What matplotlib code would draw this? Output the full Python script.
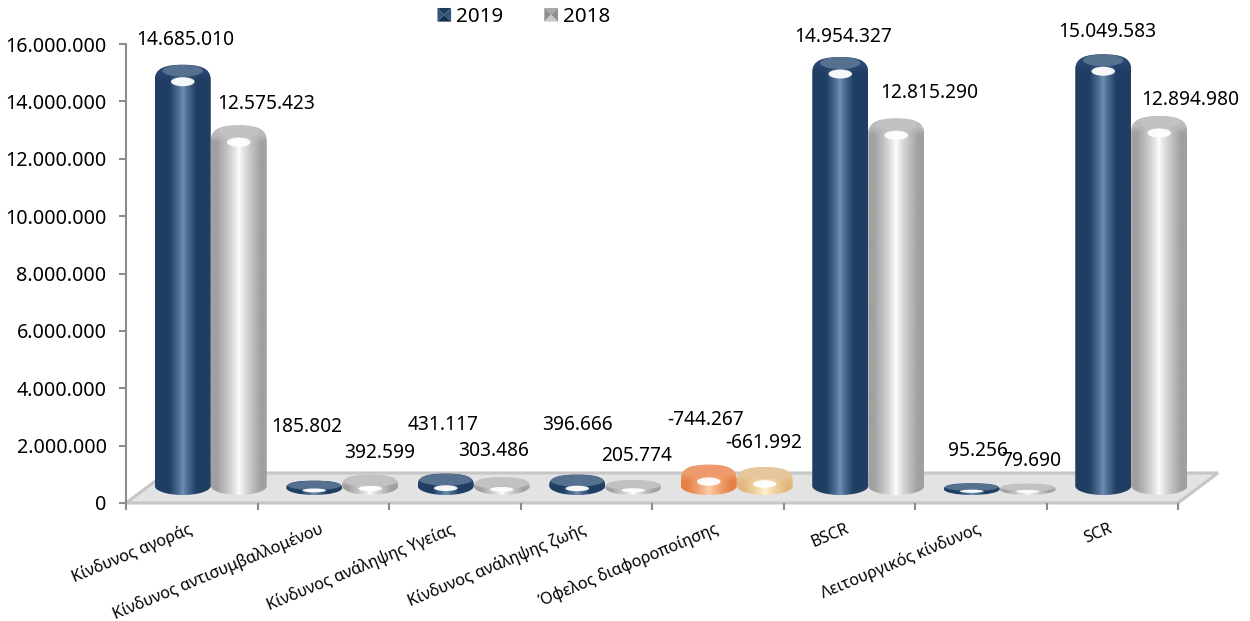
"""
plot.py
Κίνδυνοι SCR 2019 / 2018, κυλινδρικές μπάρες με ψευδο-3D δάπεδο
"""

import numpy as np
import matplotlib
matplotlib.use("Agg")
import matplotlib.pyplot as plt
from matplotlib.path import Path
from matplotlib.patches import PathPatch, Ellipse, Polygon, Patch
from matplotlib.legend_handler import HandlerBase

# ─────────────────────── data ───────────────────────
categories = ["Κίνδυνος αγοράς", "Κίνδυνος αντισυμβαλλομένου", "Κίνδυνος ανάληψης Υγείας",
              "Κίνδυνος ανάληψης ζωής", "Όφελος διαφοροποίησης", "BSCR",
              "Λειτουργικός κίνδυνος", "SCR"]
values_2019 = [14685010, 185802, 431117, 396666, -744267, 14954327, 95256, 15049583]
values_2018 = [12575423, 392599, 303486, 205774, -661992, 12815290, 79690, 12894980]
y_ticks = [0, 2000000, 4000000, 6000000, 8000000, 10000000, 12000000, 14000000, 16000000]
series_names = ["2019", "2018"]

# label offsets from the top of each bar, in pixels
offsets_2019 = [(2, 25), (-8, 54), (-3, 49), (0, 50), (-3, 45), (3, 20), (6, 32), (4, 22)]
offsets_2018 = [(27, 21), (9, 22), (-8, 26), (3, 24), (-1, 24), (33, 25), (3, 23), (31, 16)]

# ─────────────────────── layout (pixels) ───────────────────────
W, H = 1250, 621
AX_L, AX_R = 126, 1178
AX_T, AX_B = 44, 503
SHIFT_X, SHIFT_Y = 19, 17      # bars sit on the floor, not on the axis line
BACK_X, BACK_Y = 40, 30        # floor depth
BAR_PX = 56
BASE_PX = 9                    # bottom ellipse below value 0

FONT = "Noto Sans"
plt.rcParams["font.family"] = [FONT, "DejaVu Sans"]

# (edge, centre, cap, bevel, gradient width)
BLUE = ("#203e63", "#7090b5", "#56708f", "#274670", 0.5)
GRAY = ("#a0a0a0", "#ffffff", "#c2c2c2", "#bcbcbc", 0.8)
ORANGE = ("#e58045", "#ffd0ad", "#ee9a6c", "#ee9a66", 0.8)
PEACH = ("#e2b67c", "#fff6cf", "#e6c69c", "#e8c598", 0.8)

DY = 16e6 / (AX_B - AX_T)      # value per pixel
DX = 8 / (AX_R - AX_L)         # category per pixel


def rgb(c):
    return np.array(matplotlib.colors.to_rgb(c))


def fig_rect(l, r, t, b):
    return [l / W, 1 - b / H, (r - l) / W, (b - t) / H]


def draw_bar(ax, cx, value, colors):
    """one cylinder: gradient image clipped to a rounded outline"""
    edge, centre, cap, bevel_c = [rgb(c) for c in colors[:4]]
    v = abs(value)
    w = BAR_PX * DX
    l, r = cx - w / 2, cx + w / 2
    base = -BASE_PX * DY
    h_px = (v - base) / DY
    ry = min(15, h_px * 0.5) * DY
    y_sh = v - ry
    y_bs = min(y_sh, 0)

    verts = [(l, y_sh),
             (l, v - ry * 0.2), (l + 0.2 * w, v), (cx, v),
             (r - 0.2 * w, v), (r, v - ry * 0.2), (r, y_sh),
             (r, y_bs),
             (r, y_bs - 0.55 * (y_bs - base)), (cx + 0.275 * w, base), (cx, base),
             (cx - 0.275 * w, base), (l, y_bs - 0.55 * (y_bs - base)), (l, y_bs),
             (l, y_sh)]
    codes = [Path.MOVETO] + [Path.CURVE4] * 6 + [Path.LINETO] + [Path.CURVE4] * 6 + [Path.CLOSEPOLY]
    outline = Path(verts, codes)

    # horizontal gradient, flat colour in the top bevel
    t = np.abs(np.linspace(-1, 1, BAR_PX))
    k = np.clip(t / colors[4], 0, 1) ** 0.8
    row = centre + (edge - centre) * k[:, None]
    ny = max(int(h_px), 2)
    img = np.repeat(row[None, :, :], ny, axis=0)
    bevel = np.clip((np.arange(ny) - ry / DY * 0.6) / (ry / DY * 0.5), 0, 1)[:, None, None]
    img = img * bevel + bevel_c * (1 - bevel)

    im = ax.imshow(img, extent=(l, r, base, v), origin="upper", aspect="auto",
                   interpolation="bilinear", zorder=3)
    im.set_clip_path(outline, ax.transData)

    # lighter lens on top of the cylinder
    hh = min(6, h_px * 0.33) * DY
    lens = Ellipse((cx, v - hh), w * (0.95 if h_px < 35 else 0.72), hh * 2,
                   facecolor=cap, edgecolor="none", zorder=4)
    ax.add_patch(lens)
    lens.set_clip_path(outline, ax.transData)

    # white reflection
    hy = min(17, h_px * 0.68) * DY
    hh2 = min(9, h_px * 0.27) * DY
    shine = Ellipse((cx, v - hy), w * 0.42, hh2, facecolor="white", edgecolor="none",
                    alpha=0.95, zorder=5)
    ax.add_patch(shine)


class PyramidHandler(HandlerBase):
    """legend square made of four triangles"""

    def __init__(self, faces):
        super().__init__()
        self.faces = faces

    def create_artists(self, legend, orig, xd, yd, width, height, fontsize, trans):
        s = height * 0.95
        x0, y0 = width - s - xd, (height - s) / 2 - yd
        c = (x0 + s / 2, y0 + s / 2)
        a, b, d, e = (x0, y0), (x0 + s, y0), (x0 + s, y0 + s), (x0, y0 + s)
        tris = [(e, d), (a, e), (b, d), (a, b)]
        return [Polygon([p, q, c], closed=True, facecolor=f, edgecolor="none", transform=trans)
                for (p, q), f in zip(tris, self.faces)]


fig = plt.figure(figsize=(W / 100, H / 100), dpi=100)

# ─────────────────────── axis and floor ───────────────────────
ax = fig.add_axes(fig_rect(AX_L, AX_R, AX_T, AX_B))
ax.set_xlim(-0.5, 7.5)
ax.set_ylim(0, 16e6)
for side in ["top", "right", "bottom"]:
    ax.spines[side].set_visible(False)
ax.spines["left"].set_color("#8c8c8c")
ax.spines["left"].set_linewidth(1.5)

ax.set_yticks(y_ticks)
ax.set_yticklabels([f"{v:,}".replace(",", ".") for v in y_ticks], fontsize=14.2, color="black")
ax.tick_params(axis="y", length=5, width=1.5, color="#8c8c8c", pad=9)

ax.set_xticks(np.arange(-0.5, 8, 1))
ax.set_xticklabels([])
ax.tick_params(axis="x", which="major", length=5, width=1.5, color="#8c8c8c")
ax.set_xticks(np.arange(8) - 4 * DX, minor=True)
ax.set_xticklabels(categories, minor=True, rotation=22.5, ha="right", rotation_mode="anchor",
                   fontsize=11.6, color="black")
ax.tick_params(axis="x", which="minor", length=0, pad=13)

x0, x1 = -0.5, 7.5
floor = Polygon([(x0, 0), (x1, 0), (x1 + BACK_X * DX, BACK_Y * DY), (x0 + BACK_X * DX, BACK_Y * DY)],
                closed=True, facecolor="#e3e3e3", edgecolor="#c6c6c6", linewidth=2.2,
                clip_on=False, zorder=1)
ax.add_patch(floor)

# ─────────────────────── bars ───────────────────────
ax3 = fig.add_axes(fig_rect(AX_L + SHIFT_X, AX_R + SHIFT_X, AX_T - SHIFT_Y, AX_B))
ax3.axis("off")

for i, (v19, v18) in enumerate(zip(values_2019, values_2018)):
    cx19 = i - BAR_PX * DX / 2
    cx18 = i + BAR_PX * DX / 2
    draw_bar(ax3, cx18, v18, PEACH if v18 < 0 else GRAY)
    draw_bar(ax3, cx19, v19, ORANGE if v19 < 0 else BLUE)
    for cx, v, off in [(cx19, v19, offsets_2019[i]), (cx18, v18, offsets_2018[i])]:
        ax3.annotate(f"{v:,}".replace(",", "."), (cx, abs(v)), xytext=off,
                     textcoords="offset pixels", ha="center", va="center",
                     fontsize=13.8, color="black", annotation_clip=False, zorder=6)

# imshow resets the limits, so set them after the bars
ax3.set_xlim(-0.5, 7.5)
ax3.set_ylim(-SHIFT_Y * DY, 16e6)

# ─────────────────────── legend ───────────────────────
h19 = Patch(label=series_names[0])
h18 = Patch(label=series_names[1])
fig.legend(handles=[h19, h18], loc="center", bbox_to_anchor=(522 / W, 1 - 17 / H), ncol=2,
           frameon=False, fontsize=14.8, handlelength=0.85, handletextpad=0.25, columnspacing=1.8,
           borderpad=0,
           handler_map={h19: PyramidHandler(["#1f3b5e", "#33557d", "#33557d", "#16304f"]),
                        h18: PyramidHandler(["#a8a8a8", "#8f8f8f", "#8f8f8f", "#c9c9c9"])})

fig.savefig("out.png", dpi=100)
